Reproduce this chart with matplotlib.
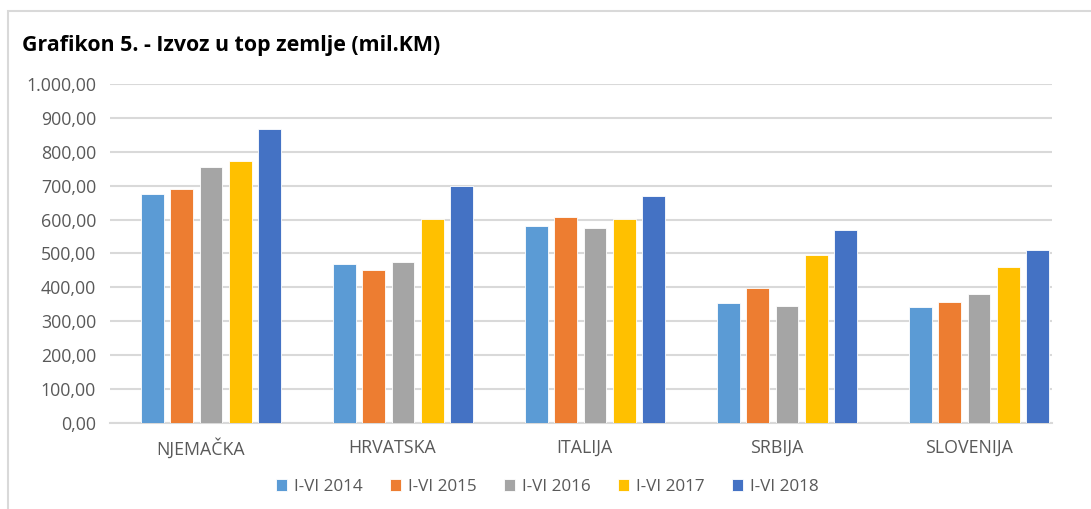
import numpy as np
import matplotlib
matplotlib.use("Agg")
import matplotlib.pyplot as plt
from matplotlib.patches import Rectangle
from matplotlib.ticker import FuncFormatter

# data (mil. KM)
countries = ["NJEMAČKA", "HRVATSKA", "ITALIJA", "SRBIJA", "SLOVENIJA"]
series_names = ["I-VI 2014", "I-VI 2015", "I-VI 2016", "I-VI 2017", "I-VI 2018"]
v2014 = [674, 468, 582, 354, 343]
v2015 = [690, 451, 608, 399, 357]
v2016 = [754, 476, 575, 346, 381]
v2017 = [771, 601, 601, 497, 459]
v2018 = [868, 699, 669, 568, 510]
colors = ["#5B9BD5", "#ED7D31", "#A5A5A5", "#FFC000", "#4472C4"]

plt.rcParams['font.family'] = ['Open Sans', 'DejaVu Sans']

fig = plt.figure(figsize=(10.91, 5.09), dpi=100)
ax = fig.add_axes([0.1008, 0.1684, 0.8635, 0.6672])

# chart border
fig.patches.append(Rectangle((8/1091, -0.1), 1.1, 1 - 11/509 + 0.1, transform=fig.transFigure,
                             fill=False, edgecolor="#d9d9d9", linewidth=1.5))

x = np.arange(len(countries))
step = 0.1524
width = 0.118
all_vals = [v2014, v2015, v2016, v2017, v2018]
for i, (vals, name, c) in enumerate(zip(all_vals, series_names, colors)):
    ax.bar(x + (i - 2) * step, vals, width, color=c, label=name,
           edgecolor="white", linewidth=0.6, zorder=3)

ax.set_xlim(-0.526, 4.38)
ax.set_ylim(0, 1000)
ax.set_yticks(np.arange(0, 1001, 100))
ax.yaxis.set_major_formatter(FuncFormatter(
    lambda v, p: "{:,.2f}".format(v).replace(",", "X").replace(".", ",").replace("X", ".")))
ax.set_xticks(x - 0.055)
ax.set_xticklabels(countries)
ax.grid(axis="y", color="#d9d9d9", linewidth=1.5, zorder=0)
for s in ["top", "right", "left"]:
    ax.spines[s].set_visible(False)
ax.spines["bottom"].set_color("#d9d9d9")
ax.spines["bottom"].set_linewidth(1.5)
ax.tick_params(axis="both", length=0, colors="#595959")
ax.tick_params(axis="x", pad=11, labelsize=12.8)
ax.tick_params(axis="y", pad=10, labelsize=12.8)

fig.text(22/1091, 1 - 46/509, "Grafikon 5. - Izvoz u top zemlje (mil.KM)", fontsize=15.4,
         fontweight="bold", color="black", va="center", ha="left")

leg = fig.legend(loc="center", bbox_to_anchor=(547/1091, 1 - 487/509), ncol=5, frameon=False,
                 fontsize=12.3, handlelength=0.65, handleheight=0.65, columnspacing=1.6,
                 handletextpad=0.4)
for t in leg.get_texts():
    t.set_color("#595959")

fig.savefig("out.png", dpi=100)
